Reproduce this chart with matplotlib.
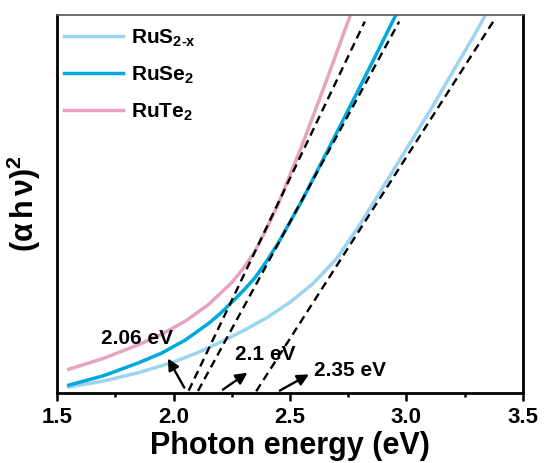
import numpy as np
import matplotlib
matplotlib.use('Agg')
import matplotlib.pyplot as plt
from matplotlib.ticker import MultipleLocator

plt.rcParams['font.family'] = ['Liberation Sans', 'DejaVu Sans']
plt.rcParams['font.weight'] = 'bold'
plt.rcParams['axes.labelweight'] = 'bold'
plt.rcParams['mathtext.fontset'] = 'custom'
plt.rcParams['mathtext.rm'] = 'Liberation Sans:bold'
plt.rcParams['mathtext.it'] = 'Liberation Sans:bold'
plt.rcParams['mathtext.bf'] = 'Liberation Sans:bold'

# (ahv)^2 curves, arbitrary units
e_s = [1.55, 1.70, 1.85, 2.00, 2.10, 2.20, 2.30, 2.40, 2.50, 2.60, 2.70,
       2.80, 2.90, 3.00, 3.10, 3.20, 3.30, 3.34]
y_s = [0.016, 0.032, 0.054, 0.082, 0.106, 0.134, 0.165, 0.199, 0.240, 0.290,
       0.355, 0.445, 0.545, 0.645, 0.745, 0.850, 0.955, 1.0]

e_se = [1.55, 1.70, 1.85, 1.95, 2.05, 2.15, 2.20, 2.25, 2.30, 2.35, 2.40,
        2.45, 2.55, 2.65, 2.75, 2.85, 2.955]
y_se = [0.021, 0.046, 0.080, 0.106, 0.140, 0.184, 0.210, 0.240, 0.271, 0.305,
        0.349, 0.397, 0.507, 0.627, 0.748, 0.870, 1.0]

e_te = [1.55, 1.70, 1.85, 1.95, 2.05, 2.15, 2.25, 2.30, 2.35, 2.40, 2.45,
        2.55, 2.65, 2.76]
y_te = [0.063, 0.092, 0.128, 0.156, 0.190, 0.234, 0.292, 0.330, 0.375, 0.435,
        0.500, 0.652, 0.815, 1.0]

# linear fits: band gap (x intercept) and slope
gaps = [2.06, 2.1, 2.35]
slopes = [1.29, 1.13, 0.96]
gap_labels = ['2.06 eV', '2.1 eV', '2.35 eV']

c_s = '#9dd5f0'
c_se = '#00a9dd'
c_te = '#e8a3c2'

fig = plt.figure(figsize=(5.44, 4.63), dpi=100)
ax = fig.add_axes([0.105, 0.151, 0.856, 0.817])

ax.plot(e_s, y_s, color=c_s, lw=2.5, label=r'RuS$_{\mathrm{2}\text{-}\mathrm{x}}$')
ax.plot(e_se, y_se, color=c_se, lw=2.5, label=r'RuSe$_{\mathrm{2}}$')
ax.plot(e_te, y_te, color=c_te, lw=2.5, label=r'RuTe$_{\mathrm{2}}$')

for eg, k in zip(gaps, slopes):
    xx = np.array([eg + 0.005, eg + 0.982 / k])
    ax.plot(xx, k * (xx - eg), 'k--', lw=1.7, dashes=(3.5, 2.2))

arrow = dict(arrowstyle='-|>', color='k', lw=1.7, mutation_scale=17)
ax.annotate('', xy=(1.97, 0.098), xytext=(2.052, 0.008), arrowprops=arrow)
ax.annotate('', xy=(2.327, 0.058), xytext=(2.202, 0.005), arrowprops=arrow)
ax.annotate('', xy=(2.592, 0.053), xytext=(2.446, 0.003), arrowprops=arrow)
ax.text(1.843, 0.143, gap_labels[0], fontsize=15, ha='center', va='center')
ax.text(2.395, 0.103, gap_labels[1], fontsize=15, ha='center', va='center')
ax.text(2.605, 0.060, gap_labels[2], fontsize=15, ha='left', va='center')

ax.set_xlim(1.5, 3.5)
ax.set_ylim(0, 1.0)
ax.xaxis.set_major_locator(MultipleLocator(0.5))
ax.xaxis.set_minor_locator(MultipleLocator(0.25))
ax.tick_params(axis='x', which='major', direction='out', length=6, width=1.8,
               labelsize=16, pad=4)
ax.tick_params(axis='x', which='minor', direction='out', length=3, width=1.8)
ax.set_yticks([])

for side in ['left', 'bottom', 'right']:
    ax.spines[side].set_linewidth(2.0)
ax.spines['top'].set_linewidth(1.2)
ax.spines['top'].set_color('#555555')

ax.set_xlabel('Photon energy (eV)', fontsize=22, labelpad=2)
ax.set_ylabel(r'$(\alpha\,h\,\nu)^{2}$', fontsize=22, labelpad=10)

ax.legend(loc='upper left', bbox_to_anchor=(-0.013, 1.0), frameon=False,
          fontsize=15, handlelength=2.85, handletextpad=0.4,
          labelspacing=0.76, borderaxespad=0.2)

fig.savefig('out.png', dpi=100)
